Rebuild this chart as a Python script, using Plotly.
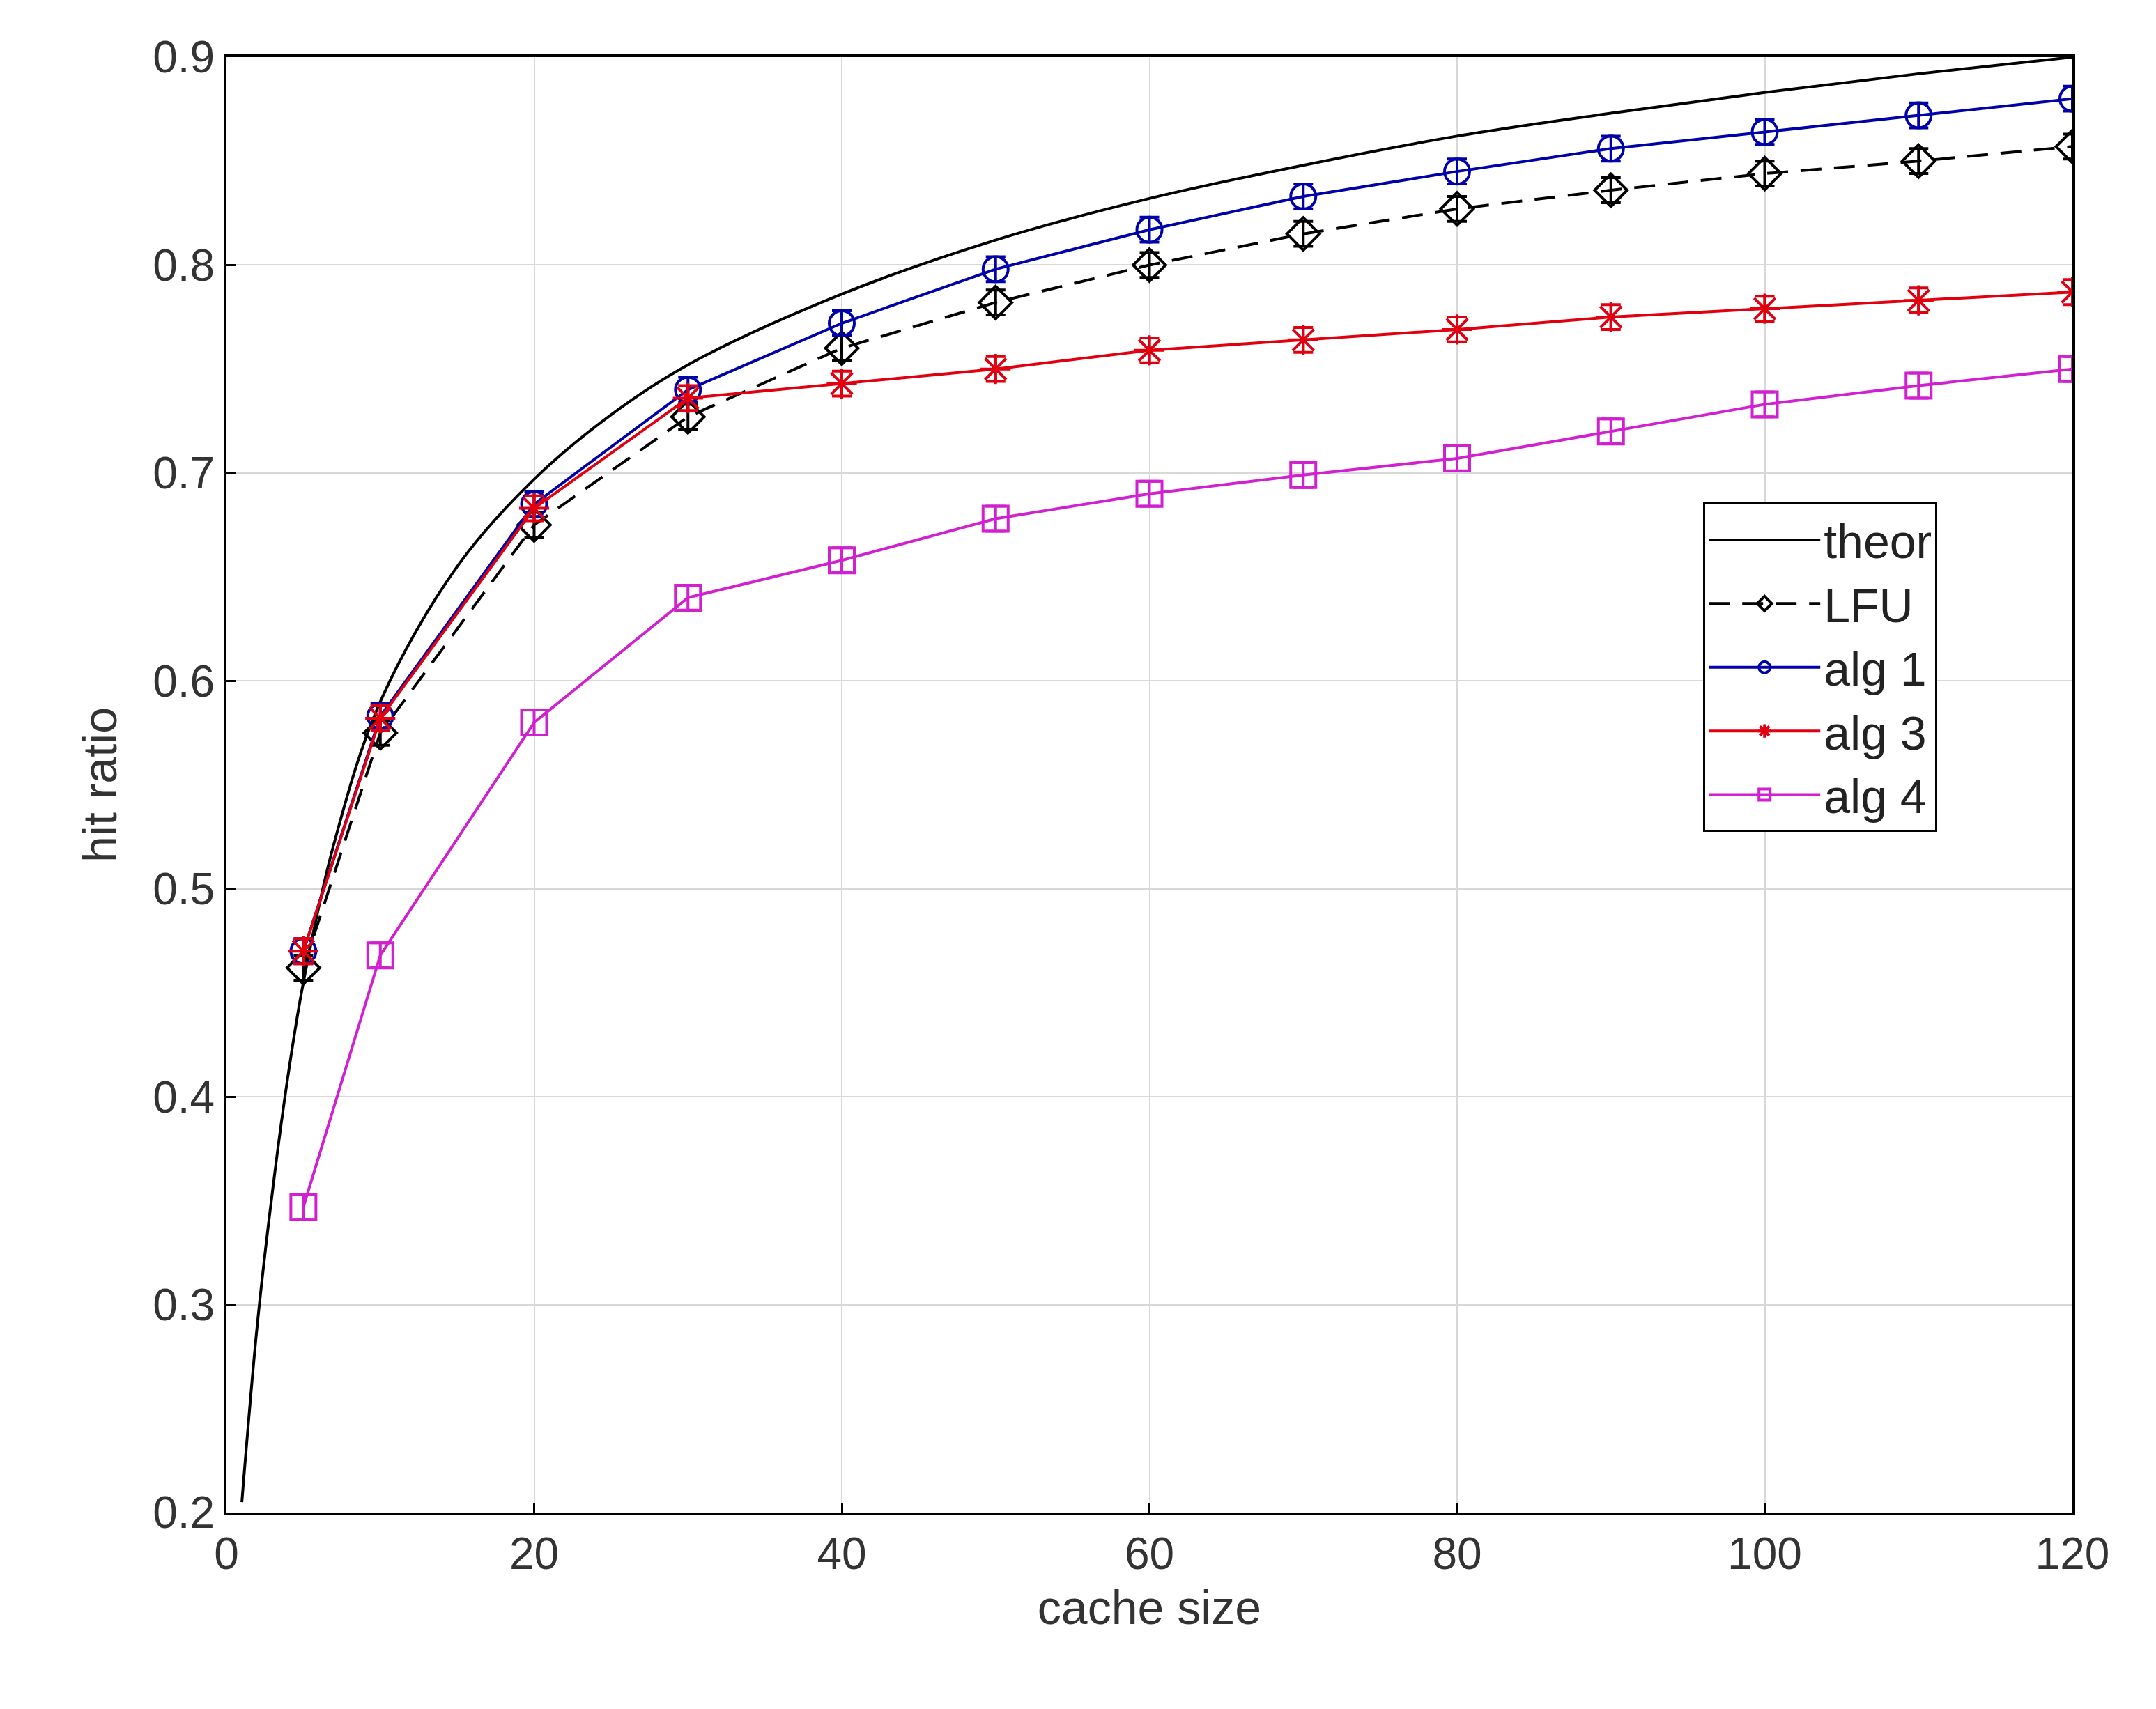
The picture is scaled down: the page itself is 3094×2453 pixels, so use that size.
import plotly.graph_objects as go

x = [5, 10, 20, 30, 40, 50, 60, 70, 80, 90, 100, 110, 120]
theor_x = [1, 2, 3, 4, 5, 7, 10, 15, 20, 25, 30, 40, 50, 60, 70, 80, 90, 100, 110, 120]
theor_y = [0.205, 0.29, 0.355, 0.41, 0.455, 0.522, 0.59, 0.655, 0.697, 0.728, 0.752, 0.786, 0.812, 0.832, 0.848, 0.862, 0.873, 0.883, 0.892, 0.900]
lfu = [0.462, 0.575, 0.675, 0.727, 0.760, 0.782, 0.800, 0.815, 0.827, 0.836, 0.844, 0.850, 0.857]
alg1 = [0.470, 0.583, 0.685, 0.740, 0.772, 0.798, 0.817, 0.833, 0.845, 0.856, 0.864, 0.872, 0.880]
alg3 = [0.470, 0.582, 0.683, 0.736, 0.743, 0.750, 0.759, 0.764, 0.769, 0.775, 0.779, 0.783, 0.787]
alg4 = [0.347, 0.468, 0.580, 0.640, 0.658, 0.678, 0.690, 0.699, 0.707, 0.720, 0.733, 0.742, 0.750]
err = [0.006] * len(x)

FONT = "Liberation Sans"
fig = go.Figure()
fig.add_trace(go.Scatter(x=theor_x, y=theor_y, mode="lines", name="theor",
                         line=dict(color="black", width=4, shape="spline")))

def add(name, y, color, symbol, dash="solid"):
    fig.add_trace(go.Scatter(
        x=x, y=y, name=name, mode="lines+markers",
        line=dict(color=color, width=4, dash=dash),
        marker=dict(symbol=symbol, size=36, color=color, line=dict(color=color, width=4)),
        error_y=dict(type="data", array=err, color=color, thickness=4, width=14)))

add("LFU", lfu, "black", "diamond-open", dash="30px,18px")
add("alg 1", alg1, "#0000AA", "circle-open")
add("alg 3", alg3, "#E00010", "asterisk-open")
add("alg 4", alg4, "#D020D0", "square-open")

axis_common = dict(showgrid=True, gridcolor="#d8d8d8", gridwidth=2, showline=True,
                   linecolor="black", linewidth=4, mirror=True, ticks="inside",
                   ticklen=14, tickwidth=3, tickcolor="black", zeroline=False,
                   tickfont=dict(size=64, color="#333"))
fig.update_xaxes(range=[0, 120], dtick=20, title=dict(text="cache size", font=dict(size=68, color="#333"), standoff=20), **axis_common)
fig.update_yaxes(range=[0.2, 0.9], dtick=0.1, tickformat=".1f", title=dict(text="hit ratio", font=dict(size=68, color="#333"), standoff=30), **axis_common)

fig.update_layout(
    width=3094, height=2453, plot_bgcolor="white", paper_bgcolor="white",
    font=dict(family=FONT, color="#333"),
    margin=dict(l=317, r=128, t=74, b=290),
    legend=dict(x=0.80, y=0.694, xanchor="left", yanchor="top", bgcolor="white",
                bordercolor="black", borderwidth=3, font=dict(size=68, color="#222"),
                itemwidth=160, tracegroupgap=0),
    showlegend=True,
)
fig.write_html("out.html")
